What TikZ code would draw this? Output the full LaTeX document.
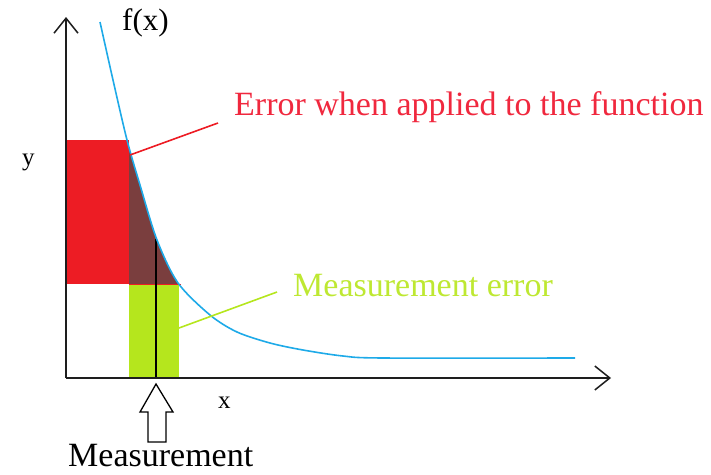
\documentclass[tikz,border=0pt]{standalone}
\usepackage{fontspec}
\setmainfont{Liberation Serif}
\usetikzlibrary{arrows.meta}
\definecolor{cRed}{RGB}{237,28,36}
\definecolor{cTxtRed}{RGB}{240,40,62}
\definecolor{cGreen}{RGB}{181,230,29}
\definecolor{cTxtGreen}{RGB}{190,232,50}
\definecolor{cBrown}{RGB}{122,62,62}
\definecolor{cBlue}{RGB}{30,170,232}
\definecolor{cAxis}{RGB}{30,30,30}
\tikzset{
  axis/.style={draw=cAxis,line width=2pt,-{Straight Barb[length=15pt,width=24pt,line width=1.5pt]}},
  lbl/.style={inner sep=0pt,anchor=base west},
  bigtext/.style={font=\fontsize{34}{40}\selectfont},
  pointer/.style={line width=1.6pt},
}
\newcommand{\curvepts}{(100,22) (113,80) (127,140) (140,185) (157,240) (178,283) (210,315) (237,332) (270,343) (303,350) (343,356) (383,358) (575,358)}
\begin{document}
\begin{tikzpicture}[x=1pt,y=-1pt]
\useasboundingbox (0,0) rectangle (711,474);
% rectangles
\fill[cRed] (66,140) rectangle (129,284);
\fill[cGreen] (129,284) rectangle (179,378);
% brown region under curve
\begin{scope}
  \clip (129,140) rectangle (182,284);
  \fill[cBrown] plot[smooth,tension=0.5] coordinates {\curvepts} -- (575,420) -- (100,420) -- cycle;
\end{scope}
\draw[cRed,line width=1pt] (129,284) -- (181,284);
% measurement line
\draw[black,line width=2pt] (156,378) -- (156,239);
% curve
\draw[cBlue,line width=1.6pt] plot[smooth,tension=0.5] coordinates {\curvepts};
% axes
\coordinate (O) at (66,378);
\coordinate (ytip) at (66,17);
\coordinate (xtip) at (611,378);
\draw[axis] (O) -- (ytip);
\draw[axis] (O) -- (xtip);
% labels
\node[lbl,font=\fontsize{31}{36}\selectfont] (fx) at (122,30) {f(x)};
\node[lbl,font=\fontsize{25}{30}\selectfont] (ylab) at (22,165) {y};
\node[lbl,font=\fontsize{25}{30}\selectfont] (xlab) at (218,408) {x};
\node[lbl,bigtext,text=cTxtRed] (errf) at (234,115) {Error when applied to the function};
\node[lbl,bigtext,text=cTxtGreen] (errm) at (293,296) {Measurement error};
\node[lbl,bigtext] (meas) at (68,466) {Measurement};
% pointers
\coordinate (redA) at (130,155);
\coordinate (redB) at (218,123);
\coordinate (grnA) at (179,328);
\coordinate (grnB) at (277,292);
\draw[pointer,cRed] (redA) -- (redB);
\draw[pointer,cGreen] (grnA) -- (grnB);
% hollow arrow
\draw[black,line width=1.3pt,fill=white] (156,384) -- (173,412) -- (166,412) -- (166,442) -- (148,442) -- (148,412) -- (140,412) -- cycle;
\end{tikzpicture}
\end{document}
